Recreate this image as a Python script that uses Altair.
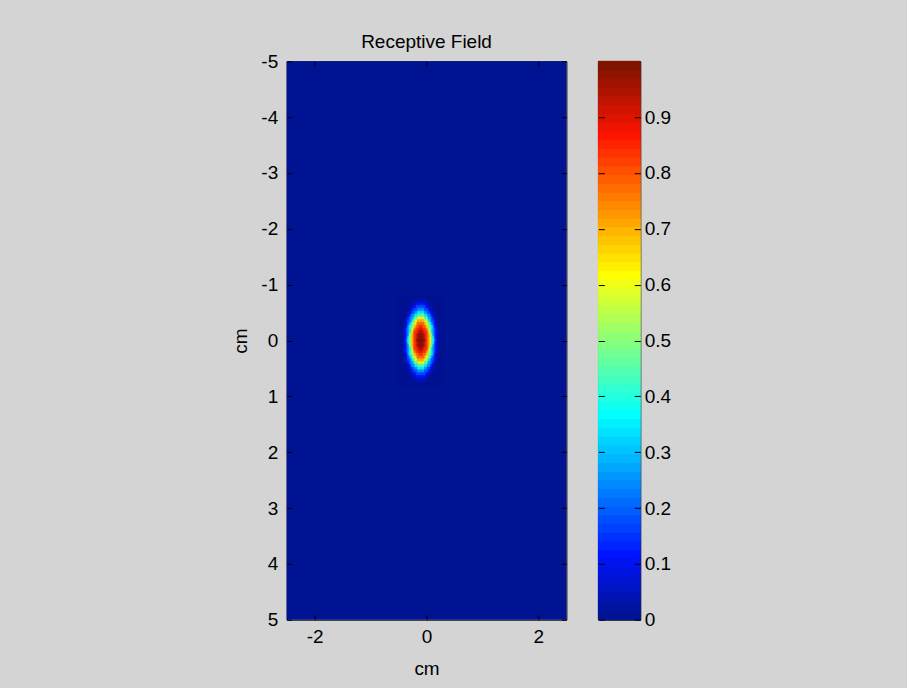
import altair as alt
import numpy as np
import pandas as pd

# ---------------- text ----------------
TITLE = "Receptive Field"
X_TITLE = "cm"
Y_TITLE = "cm"

# ---------------- axes / extents ----------------
x_range = [-2.5, 2.5]
y_range = [-5, 5]
x_tick_values = [-2, 0, 2]
y_tick_values = [-5, -4, -3, -2, -1, 0, 1, 2, 3, 4, 5]
cbar_range = [0.0, 1.0]
cbar_tick_values = [0, 0.1, 0.2, 0.3, 0.4, 0.5, 0.6, 0.7, 0.8, 0.9]
background_value = [0.0]

# ---------------- receptive-field blob ----------------
blob_center_x = -0.1          # cm
blob_center_y = 0.0           # cm
blob_aspect = 2.3             # vertical extent / horizontal extent of the ellipse
radial_step = 0.05            # cm (along the long, vertical axis)
# value along the long axis at 0, 0.05, 0.10, ... 0.80 cm from the centre
radial_profile = [1.00, 0.99, 0.97, 0.94, 0.89, 0.84, 0.78, 0.69, 0.58,
                  0.46, 0.35, 0.26, 0.18, 0.11, 0.06, 0.03, 0.015]
cell_w = 0.025                # cm
cell_h = 0.05                 # cm
n_cols = 33
n_rows = 33

N_LEVELS = 64
FONT = "Liberation Sans"
FS = 19
BG = "#d4d4d4"


def matlab_jet(m):
    n = int(np.ceil(m / 4))
    u = np.concatenate([np.arange(1, n + 1) / n, np.ones(n - 1), np.arange(n, 0, -1) / n])
    g = int(np.ceil(n / 2)) - (1 if m % 4 == 1 else 0) + np.arange(1, len(u) + 1)
    r = g + n
    b = g - n
    J = np.zeros((m, 3))
    for idx, val in zip(r, u):
        if 1 <= idx <= m:
            J[idx - 1, 0] = val
    for idx, val in zip(g, u):
        if 1 <= idx <= m:
            J[idx - 1, 1] = val
    for idx, val in zip(b, u):
        if 1 <= idx <= m:
            J[idx - 1, 2] = val
    # the reference rendering shows a slight green lift on every colour
    J[:, 1] = 0.08 + 0.92 * J[:, 1]
    J[:, 2] = np.where(J[:, 2] > 0, 0.03 + 0.97 * J[:, 2], 0)
    return ["#%02x%02x%02x" % tuple(int(round(c * 255)) for c in row) for row in J]


jet_colors = matlab_jet(N_LEVELS)

rows = []
for i in range(n_cols):
    dx = (i - (n_cols - 1) / 2) * cell_w
    for j in range(n_rows):
        dy = (j - (n_rows - 1) / 2) * cell_h
        r = np.hypot(dx * blob_aspect, dy)
        k = int(round(r / radial_step))
        v = radial_profile[k] if k < len(radial_profile) else 0.0
        xc = blob_center_x + dx
        yc = blob_center_y + dy
        rows.append(dict(x0=xc - cell_w / 2, x1=xc + cell_w / 2,
                         y0=yc - cell_h / 2, y1=yc + cell_h / 2, v=v))
blob_df = pd.DataFrame(rows)
bg_df = pd.DataFrame({"x0": [x_range[0]], "x1": [x_range[1]],
                      "y0": [y_range[0]], "y1": [y_range[1]], "v": background_value})

lv = np.arange(N_LEVELS)
cb_df = pd.DataFrame({"lo": lv / N_LEVELS, "hi": (lv + 1) / N_LEVELS,
                      "mid": (lv + 0.5) / N_LEVELS, "c0": 0.0, "c1": 1.0})

xs = alt.Scale(domain=x_range, nice=False, zero=False)
ys = alt.Scale(domain=y_range, nice=False, zero=False, reverse=True)
cs = alt.Scale(type="quantize", domain=cbar_range, range=jet_colors, nice=False, zero=False)
cys = alt.Scale(domain=cbar_range, nice=False, zero=False)
cxs = alt.Scale(domain=[0, 1], nice=False, zero=False)

TICK = 5
CTICK = 6


def axis_style(tick):
    return dict(grid=False, domain=False, tickColor="black", tickWidth=1, tickSize=tick,
                offset=-tick, zindex=1, labelFont=FONT, labelFontSize=FS, labelColor="black",
                labelOverlap=False, labelFlush=False,
                titleFont=FONT, titleFontSize=FS, titleColor="black", titleFontWeight="normal")


label_expr = "'' + datum.value"
ax_bottom = alt.Axis(orient="bottom", values=x_tick_values, labelExpr=label_expr,
                     labelPadding=8, title=X_TITLE, titlePadding=13, **axis_style(TICK))
ax_left = alt.Axis(orient="left", values=y_tick_values, labelExpr=label_expr,
                   labelPadding=9, title=Y_TITLE, titlePadding=10, **axis_style(TICK))
ax_top = alt.Axis(orient="top", values=x_tick_values, labels=False, title=None, **axis_style(TICK))
ax_right = alt.Axis(orient="right", values=y_tick_values, labels=False, title=None, **axis_style(TICK))

cb_right = alt.Axis(orient="right", values=cbar_tick_values, labelExpr=label_expr,
                    labelPadding=4, title=None, **axis_style(CTICK))
cb_left = alt.Axis(orient="left", values=cbar_tick_values, labels=False, title=None,
                   **axis_style(CTICK))

color_enc = alt.Color("v:Q", scale=cs, legend=None)

bg = alt.Chart(bg_df).mark_rect().encode(
    x=alt.X("x0:Q", scale=xs, axis=ax_bottom), x2="x1:Q",
    y=alt.Y("y0:Q", scale=ys, axis=ax_left), y2="y1:Q",
    color=color_enc,
)
blob = alt.Chart(blob_df).mark_rect(strokeWidth=0.5).encode(
    x=alt.X("x0:Q", scale=xs, axis=ax_top), x2="x1:Q",
    y=alt.Y("y0:Q", scale=ys, axis=ax_right), y2="y1:Q",
    color=color_enc,
    stroke=alt.Stroke("v:Q", scale=cs, legend=None),
)
main = alt.layer(bg, blob).properties(
    width=280, height=559,
    title=alt.TitleParams(TITLE, font=FONT, fontSize=FS, fontWeight="normal", color="black",
                          anchor="middle", baseline="bottom", offset=-19),
)

cb1 = alt.Chart(cb_df).mark_rect(strokeWidth=0.5).encode(
    x=alt.X("c0:Q", scale=cxs, axis=None), x2="c1:Q",
    y=alt.Y("lo:Q", scale=cys, axis=cb_right), y2="hi:Q",
    color=alt.Color("mid:Q", scale=cs, legend=None),
    stroke=alt.Stroke("mid:Q", scale=cs, legend=None),
)
cb2 = alt.Chart(cb_df).mark_rect(strokeWidth=0.5).encode(
    x=alt.X("c0:Q", scale=cxs, axis=None), x2="c1:Q",
    y=alt.Y("lo:Q", scale=cys, axis=cb_left), y2="hi:Q",
    color=alt.Color("mid:Q", scale=cs, legend=None),
    stroke=alt.Stroke("mid:Q", scale=cs, legend=None),
)
cbar = alt.layer(cb1, cb2).properties(width=42, height=559)

chart = alt.hconcat(main, cbar, spacing=32, bounds="flush").properties(
    background=BG,
    padding={"left": 231, "top": 32, "right": 236, "bottom": 8},
).configure_view(stroke="black", strokeWidth=1)

chart.save("out.html", embed_options={"renderer": "svg", "actions": False})
